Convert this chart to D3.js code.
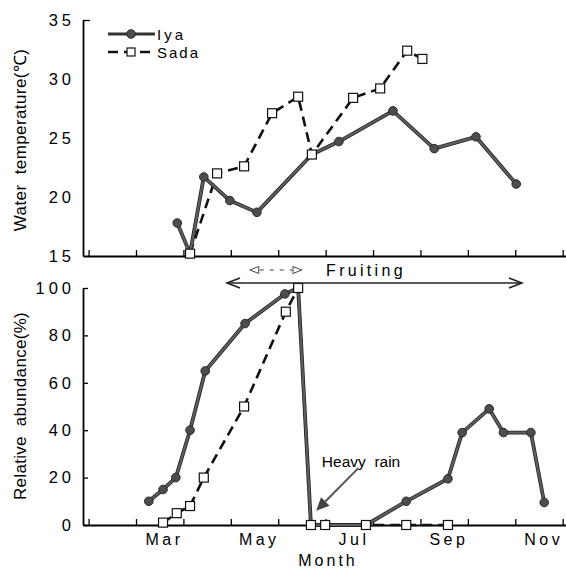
<!DOCTYPE html>
<html>
<head>
<meta charset="utf-8">
<script src="https://cdn.jsdelivr.net/npm/d3@7"></script>
<style>
  html, body { margin: 0; padding: 0; background: #fff; }
  svg { display: block; font-family: "Liberation Sans", Arial, sans-serif; }
</style>
</head>
<body>
<svg id="chart" width="566" height="570"></svg>
<script>
// ---- Data (month as fractional month number, 3 = start of March) ----
const iyaTempMonth  = [3.87, 4.14, 4.43, 4.98, 5.55, 6.71, 7.28, 8.42, 9.29, 10.17, 11.02];
const iyaTemp       = [17.8, 15.2, 21.7, 19.7, 18.7, 23.6, 24.7, 27.3, 24.1, 25.1, 21.1];
const sadaTempMonth = [4.14, 4.71, 5.28, 5.87, 6.42, 6.71, 7.58, 8.15, 8.72, 9.04];
const sadaTemp      = [15.2, 22.0, 22.6, 27.1, 28.5, 23.6, 28.4, 29.2, 32.4, 31.7];

const iyaAbMonth  = [3.27, 3.57, 3.84, 4.14, 4.46, 5.30, 6.14, 6.42, 6.69, 6.99, 7.85, 8.70, 9.58, 9.88, 10.45, 10.75, 11.33, 11.61];
const iyaAb       = [10, 15, 20, 40, 65, 85, 97.5, 100, 0, 0, 0, 10, 19.5, 39, 49, 39, 39, 9.5];
const sadaAbMonth = [3.57, 3.86, 4.14, 4.43, 5.28, 6.16, 6.42, 6.69, 6.99, 7.85, 8.70, 9.58];
const sadaAb      = [1, 5, 8, 20, 50, 90, 100, 0, 0, 0, 0, 0];

const monthTicks   = [2, 3, 4, 5, 6, 7, 8, 9, 10, 11, 12];
const monthLabels  = ["Mar", "May", "Jul", "Sep", "Nov"];
const monthLabelAt = [3, 5, 7, 9, 11];
const tempTicks    = [15, 20, 25, 30, 35];
const abTicks      = [0, 20, 40, 60, 80, 100];

const fruitingSolid  = [4.92, 11.14];
const fruitingDashed = [5.40, 6.50];
const rainArrowFrom  = [7.69, 24];
const rainArrowTo    = [6.80, 6];

// ---- Scales ----
const svg = d3.select("#chart");
const x = d3.scaleLinear().domain([1.882, 12.07]).range([83, 566]);
const yT = d3.scaleLinear().domain([15, 35]).range([256, 20]);
const yA = d3.scaleLinear().domain([0, 100]).range([525, 288]);

const iyaColor = "#4d4d4d";

// ---- Axes ----
function xAxis(y0) {
  const g = svg.append("g").attr("transform", `translate(0,${y0})`)
    .call(d3.axisBottom(x).tickValues(monthTicks).tickSize(-6).tickSizeOuter(0).tickFormat(""));
  g.select(".domain").attr("stroke", "#000").attr("stroke-width", 1.8);
  g.selectAll(".tick line").attr("stroke", "#000").attr("stroke-width", 1.3);
  return g;
}
function yAxis(scale, ticks, tickLen) {
  const g = svg.append("g").attr("transform", `translate(83,0)`)
    .call(d3.axisLeft(scale).tickValues(ticks).tickSize(-tickLen).tickSizeOuter(0).tickPadding(8));
  g.select(".domain").attr("stroke", "#000").attr("stroke-width", 1.8);
  g.selectAll(".tick line").attr("stroke", "#000").attr("stroke-width", 1.3);
  g.selectAll(".tick text").attr("font-size", 16.5).attr("fill", "#000")
    .attr("letter-spacing", "4px")
    .attr("font-family", '"Liberation Sans", Arial, sans-serif');
  return g;
}
xAxis(256);
xAxis(525);
const gyT = yAxis(yT, tempTicks, 0);
gyT.selectAll(".tick").filter(d => d === 35).select("line").attr("x2", 7);
yAxis(yA, abTicks, 5);

// month labels
svg.append("g").selectAll("text").data(monthLabels).join("text")
  .attr("x", (d, i) => x(monthLabelAt[i] + 0.6))
  .attr("y", 545)
  .attr("text-anchor", "middle")
  .attr("font-size", 16).attr("letter-spacing", "3.5px")
  .text(d => d);

svg.append("text").attr("x", x(7.05)).attr("y", 566).attr("text-anchor", "middle")
  .attr("font-size", 16).attr("letter-spacing", "3px").text("Month");

// y axis titles
svg.append("text").attr("transform", "translate(26,140) rotate(-90)")
  .attr("text-anchor", "middle").attr("font-size", 17).attr("letter-spacing", "0.4px")
  .style("white-space", "pre").text("Water  temperature(℃)");
svg.append("text").attr("transform", "translate(26,406) rotate(-90)")
  .attr("text-anchor", "middle").attr("font-size", 17).attr("letter-spacing", "0.3px")
  .style("white-space", "pre").text("Relative  abundance(%)");

// ---- Series ----
function drawPanel(ys, iM, iV, sM, sV) {
  const iData = iM.map((m, i) => [m, iV[i]]);
  const sData = sM.map((m, i) => [m, sV[i]]);
  const line = d3.line().x(d => x(d[0])).y(d => ys(d[1]));
  svg.append("path").attr("d", line(sData)).attr("fill", "none")
    .attr("stroke", "#111").attr("stroke-width", 2.6).attr("stroke-dasharray", "10,6");
  svg.append("path").attr("d", line(iData)).attr("fill", "none")
    .attr("stroke", "#222").attr("stroke-width", 3.8).attr("stroke-linejoin", "round");
  svg.append("path").attr("d", line(iData)).attr("fill", "none")
    .attr("stroke", "#5e5e5e").attr("stroke-width", 2.2).attr("stroke-linejoin", "round");
  svg.append("g").selectAll("circle").data(iData).join("circle")
    .attr("cx", d => x(d[0])).attr("cy", d => ys(d[1])).attr("r", 4.3)
    .attr("fill", iyaColor).attr("stroke", "#2a2a2a").attr("stroke-width", 1);
  svg.append("g").selectAll("rect").data(sData).join("rect")
    .attr("x", d => x(d[0]) - 4.5).attr("y", d => ys(d[1]) - 4.5)
    .attr("width", 9).attr("height", 9)
    .attr("fill", "#fff").attr("stroke", "#111").attr("stroke-width", 1.2);
}
drawPanel(yT, iyaTempMonth, iyaTemp, sadaTempMonth, sadaTemp);
drawPanel(yA, iyaAbMonth, iyaAb, sadaAbMonth, sadaAb);

// ---- Legend ----
const lg = svg.append("g");
lg.append("line").attr("x1", 108).attr("x2", 155).attr("y1", 34).attr("y2", 34)
  .attr("stroke", "#333").attr("stroke-width", 3);
lg.append("circle").attr("cx", 131).attr("cy", 34).attr("r", 4.3).attr("fill", iyaColor).attr("stroke", "#2a2a2a");
lg.append("line").attr("x1", 108).attr("x2", 155).attr("y1", 52).attr("y2", 52)
  .attr("stroke", "#111").attr("stroke-width", 2.6).attr("stroke-dasharray", "10,6");
lg.append("rect").attr("x", 127).attr("y", 48).attr("width", 8).attr("height", 8)
  .attr("fill", "#fff").attr("stroke", "#111").attr("stroke-width", 1.2);
lg.append("text").attr("x", 157).attr("y", 40).attr("font-size", 15).attr("letter-spacing", "3px").text("Iya");
lg.append("text").attr("x", 157).attr("y", 58).attr("font-size", 15).attr("letter-spacing", "2px").text("Sada");

// ---- Fruiting annotation ----
const fy = 283, fdy = 270;
const fx1 = x(fruitingSolid[0]), fx2 = x(fruitingSolid[1]);
svg.append("line").attr("x1", fx1).attr("x2", fx2).attr("y1", fy).attr("y2", fy)
  .attr("stroke", "#222").attr("stroke-width", 1.3);
svg.append("path").attr("d", `M${fx1 + 13},${fy - 5} L${fx1},${fy} L${fx1 + 13},${fy + 5}`)
  .attr("fill", "none").attr("stroke", "#222").attr("stroke-width", 1.6);
svg.append("path").attr("d", `M${fx2 - 13},${fy - 5} L${fx2},${fy} L${fx2 - 13},${fy + 5}`)
  .attr("fill", "none").attr("stroke", "#222").attr("stroke-width", 1.6);
const dx1 = x(fruitingDashed[0]), dx2 = x(fruitingDashed[1]);
svg.append("line").attr("x1", dx1 + 10).attr("x2", dx2 - 10).attr("y1", fdy).attr("y2", fdy)
  .attr("stroke", "#444").attr("stroke-width", 1.2).attr("stroke-dasharray", "4,6");
svg.append("path").attr("d", `M${dx1},${fdy} L${dx1 + 9},${fdy - 3.5} L${dx1 + 9},${fdy + 3.5} Z`)
  .attr("fill", "#fff").attr("stroke", "#444").attr("stroke-width", 1);
svg.append("path").attr("d", `M${dx2},${fdy} L${dx2 - 9},${fdy - 3.5} L${dx2 - 9},${fdy + 3.5} Z`)
  .attr("fill", "#fff").attr("stroke", "#444").attr("stroke-width", 1);
svg.append("text").attr("x", x(7.01)).attr("y", 276).attr("font-size", 16)
  .attr("letter-spacing", "3.3px").text("Fruiting");

// ---- Heavy rain annotation ----
svg.append("text").attr("x", x(6.92)).attr("y", 467).attr("font-size", 15.5)
  .style("white-space", "pre").text("Heavy  rain");
const ax1 = x(rainArrowFrom[0]), ay1 = yA(rainArrowFrom[1]);
const ax2 = x(rainArrowTo[0]), ay2 = yA(rainArrowTo[1]);
const ang = Math.atan2(ay2 - ay1, ax2 - ax1);
const hl = 13, hw = 6;
const bx = ax2 - hl * Math.cos(ang), by = ay2 - hl * Math.sin(ang);
svg.append("line").attr("x1", ax1).attr("y1", ay1).attr("x2", bx).attr("y2", by)
  .attr("stroke", "#555").attr("stroke-width", 2);
svg.append("path").attr("d",
  `M${ax2},${ay2} L${bx + hw * Math.sin(ang)},${by - hw * Math.cos(ang)} L${bx - hw * Math.sin(ang)},${by + hw * Math.cos(ang)} Z`)
  .attr("fill", "#444");
</script>
</body>
</html>
